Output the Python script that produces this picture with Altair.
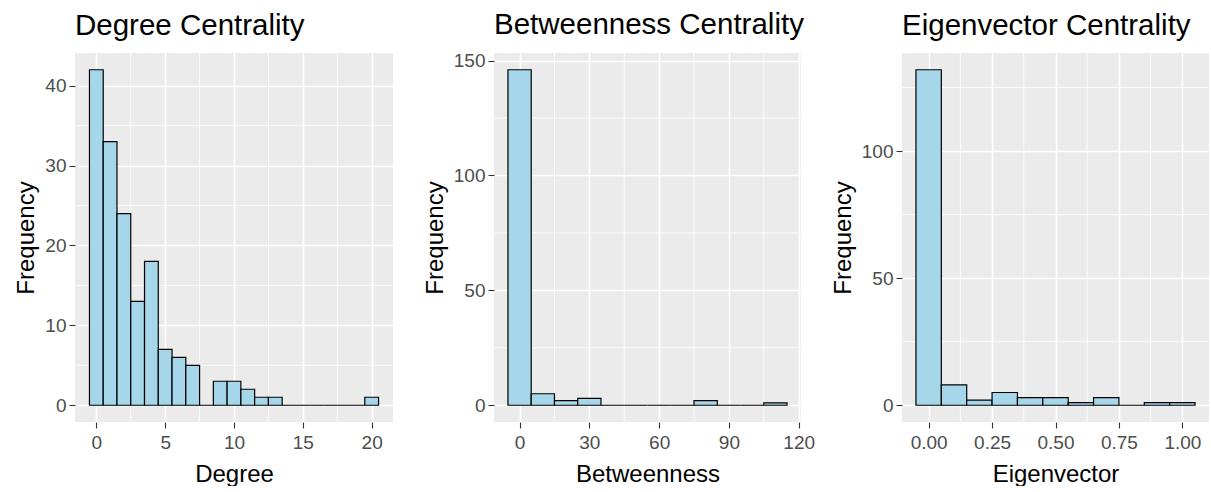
import altair as alt
import pandas as pd

FONT = "Liberation Sans"

# ---- data ----
deg_centers = list(range(0, 21))
deg_counts = [42, 33, 24, 13, 18, 7, 6, 5, 0, 3, 3, 2, 1, 1, 0, 0, 0, 0, 0, 0, 1]

bet_centers = [0, 10, 20, 30, 40, 50, 60, 70, 80, 90, 100, 110]
bet_counts = [146, 5, 2, 3, 0, 0, 0, 0, 2, 0, 0, 1]

eig_centers = [0.0, 0.1, 0.2, 0.3, 0.4, 0.5, 0.6, 0.7, 0.8, 0.9, 1.0]
eig_counts = [132, 8, 2, 5, 3, 3, 1, 3, 0, 1, 1]

deg_xticks = [0, 5, 10, 15, 20]
deg_xminor = [2.5, 7.5, 12.5, 17.5]
deg_yticks = [0, 10, 20, 30, 40]
deg_yminor = [5, 15, 25, 35]

bet_xticks = [0, 30, 60, 90, 120]
bet_xminor = [15, 45, 75, 105]
bet_yticks = [0, 50, 100, 150]
bet_yminor = [25, 75, 125]

eig_xticks = [0.0, 0.25, 0.5, 0.75, 1.0]
eig_xminor = [0.125, 0.375, 0.625, 0.875]
eig_yticks = [0, 50, 100]
eig_yminor = [25, 75, 125]


def expand(lo, hi, f=0.05):
    r = hi - lo
    return [lo - f * r, hi + f * r]


def panel(centers, counts, binw, xticks, xminor, yticks, yminor, xfmt, xtitle, title, w, h):
    df = pd.DataFrame({"center": centers, "count": counts})
    df["x0"] = df["center"] - binw / 2
    df["x1"] = df["center"] + binw / 2
    df["base"] = 0
    xdom = expand(df["x0"].min(), df["x1"].max())
    ydom = expand(0, max(counts))
    xs = alt.Scale(domain=xdom, nice=False, zero=False)
    ys = alt.Scale(domain=ydom, nice=False, zero=False)
    xax = alt.Axis(values=xticks, format=xfmt, title=xtitle, labelPadding=5, titlePadding=10)
    yax = alt.Axis(values=yticks, format="d", title="Frequency")

    mx = alt.Chart(pd.DataFrame({"v": xminor})).mark_rule(
        color="white", strokeWidth=0.8
    ).encode(x=alt.X("v:Q", scale=xs, axis=xax))
    my = alt.Chart(pd.DataFrame({"v": yminor})).mark_rule(
        color="white", strokeWidth=0.8
    ).encode(y=alt.Y("v:Q", scale=ys, axis=yax))

    bars = alt.Chart(df).mark_rect(
        fill="#A6D6EA", stroke="black", strokeWidth=1.2
    ).encode(
        x=alt.X("x0:Q", scale=xs, axis=xax),
        x2="x1:Q",
        y=alt.Y("count:Q", scale=ys, axis=yax),
        y2="base:Q",
    )
    return alt.layer(mx, my, bars).properties(
        width=w,
        height=h,
        title=alt.TitleParams(
            title, anchor="start", frame="group", fontSize=29.5, fontWeight="normal",
            font=FONT, color="black", baseline="bottom", offset=-18,
        ),
    )


p1 = panel(deg_centers, deg_counts, 1, deg_xticks, deg_xminor, deg_yticks, deg_yminor,
           "d", "Degree", "Degree Centrality", 318, 369)
p2 = panel(bet_centers, bet_counts, 10, bet_xticks, bet_xminor, bet_yticks, bet_yminor,
           "d", "Betweenness", "Betweenness Centrality", 307, 369)
p3 = panel(eig_centers, eig_counts, 0.1, eig_xticks, eig_xminor, eig_yticks, eig_yminor,
           ".2f", "Eigenvector", "Eigenvector Centrality", 307, 369)

chart = alt.hconcat(alt.hconcat(p1, p2, spacing=29), p3, spacing=16).properties(
    padding={"left": 14, "top": 10, "right": 0, "bottom": 0}
).configure(
    font=FONT, background="white"
).configure_view(
    fill="#EBEBEB", stroke=None
).configure_axis(
    grid=True, gridColor="white", gridWidth=1.6, domain=False,
    tickColor="#333333", tickSize=6, tickWidth=1.1,
    labelFont=FONT, labelFontSize=19, labelColor="#4D4D4D", labelPadding=3,
    titleFont=FONT, titleFontSize=24, titleFontWeight="normal", titleColor="black",
    titlePadding=6,
)

chart.save("out.html", embed_options={"renderer": "svg", "actions": False})
